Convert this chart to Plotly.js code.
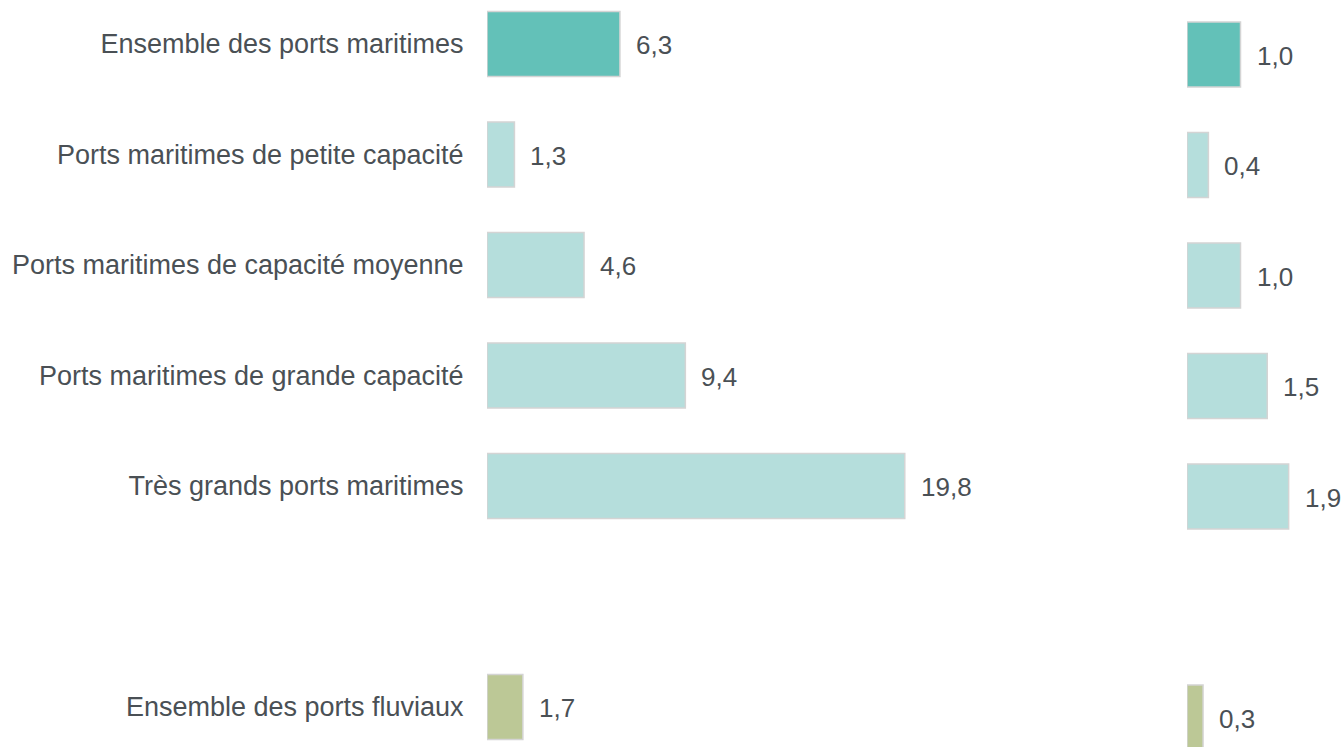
<!DOCTYPE html>
<html>
<head>
<meta charset="utf-8">
<script src="https://cdn.plot.ly/plotly-3.0.1.min.js"></script>
<style>
html,body{margin:0;padding:0;background:#fff;}
#chart{width:1344px;height:747px;}
</style>
</head>
<body>
<div id="chart"></div>
<script>
// Axis slots (a blank slot separates maritime ports from river ports)
const categories = [
  'Ensemble des ports maritimes',
  'Ports maritimes de petite capacité',
  'Ports maritimes de capacité moyenne',
  'Ports maritimes de grande capacité',
  'Très grands ports maritimes',
  ' ',
  'Ensemble des ports fluviaux'
];
const barCategories = [
  'Ensemble des ports maritimes',
  'Ports maritimes de petite capacité',
  'Ports maritimes de capacité moyenne',
  'Ports maritimes de grande capacité',
  'Très grands ports maritimes',
  'Ensemble des ports fluviaux'
];
const leftValues = [6.3, 1.3, 4.6, 9.4, 19.8, 1.7];
const rightValues = [1.0, 0.4, 1.0, 1.5, 1.9, 0.3];
const barColors = ['#63c1b8', '#b5dedc', '#b5dedc', '#b5dedc', '#b5dedc', '#bcc896'];

const fmt = v => v.toFixed(1).replace('.', ',');
const textColor = '#4a5055';
const fontFamily = '"Liberation Sans", Arial, Helvetica, sans-serif';

const W = 1344, H = 747;
const slot = 110.5;
const leftStart = 487, leftEnd = 1100, leftPx = 21.1;
const rightStart = 1187, rightPx = 53.5;
const leftCenter0 = 44, rightCenter0 = 54.5;

const traces = [
  {
    type: 'bar', orientation: 'h',
    x: leftValues, y: barCategories,
    xaxis: 'x', yaxis: 'y',
    width: 0.59,
    marker: {color: barColors, line: {color: '#d4d4d4', width: 1.5}},
    hoverinfo: 'none'
  },
  {
    type: 'bar', orientation: 'h',
    x: rightValues, y: barCategories,
    xaxis: 'x2', yaxis: 'y2',
    width: 0.59,
    marker: {color: barColors, line: {color: '#d4d4d4', width: 1.5}},
    hoverinfo: 'none'
  }
];

const annotations = [];
barCategories.forEach((c, i) => {
  annotations.push({
    x: leftValues[i], y: c, xref: 'x', yref: 'y',
    text: fmt(leftValues[i]), showarrow: false,
    xanchor: 'left', yanchor: 'middle', xshift: 14, yshift: -1,
    font: {family: fontFamily, size: 26, color: textColor}
  });
  annotations.push({
    x: rightValues[i], y: c, xref: 'x2', yref: 'y2',
    text: fmt(rightValues[i]), showarrow: false,
    xanchor: 'left', yanchor: 'middle', xshift: 14, yshift: -1,
    font: {family: fontFamily, size: 26, color: textColor}
  });
});

const layout = {
  width: W, height: H,
  margin: {l: 0, r: 0, t: 0, b: 0, pad: 0},
  paper_bgcolor: '#ffffff', plot_bgcolor: '#ffffff',
  showlegend: false,
  font: {family: fontFamily, size: 26, color: textColor},
  xaxis: {
    domain: [leftStart / W, leftEnd / W],
    range: [0, (leftEnd - leftStart) / leftPx],
    showgrid: false, zeroline: false, showline: false,
    showticklabels: false, ticks: '', fixedrange: true
  },
  yaxis: {
    domain: [0, 1], anchor: 'x',
    type: 'category', categoryorder: 'array', categoryarray: categories,
    range: [(H - leftCenter0) / slot, -leftCenter0 / slot],
    showgrid: false, zeroline: false, showline: false,
    ticks: 'outside', ticklen: 17, tickcolor: 'rgba(0,0,0,0)',
    tickfont: {family: fontFamily, size: 27, color: textColor},
    automargin: false, fixedrange: true
  },
  xaxis2: {
    domain: [rightStart / W, 1],
    range: [0, (W - rightStart) / rightPx],
    anchor: 'y2',
    showgrid: false, zeroline: false, showline: false,
    showticklabels: false, ticks: '', fixedrange: true
  },
  yaxis2: {
    domain: [0, 1], anchor: 'x2',
    type: 'category', categoryorder: 'array', categoryarray: categories,
    range: [(H - rightCenter0) / slot, -rightCenter0 / slot],
    showgrid: false, zeroline: false, showline: false,
    showticklabels: false, ticks: '', automargin: false, fixedrange: true
  },
  annotations: annotations
};

Plotly.newPlot('chart', traces, layout, {displayModeBar: false, staticPlot: true});
</script>
</body>
</html>
